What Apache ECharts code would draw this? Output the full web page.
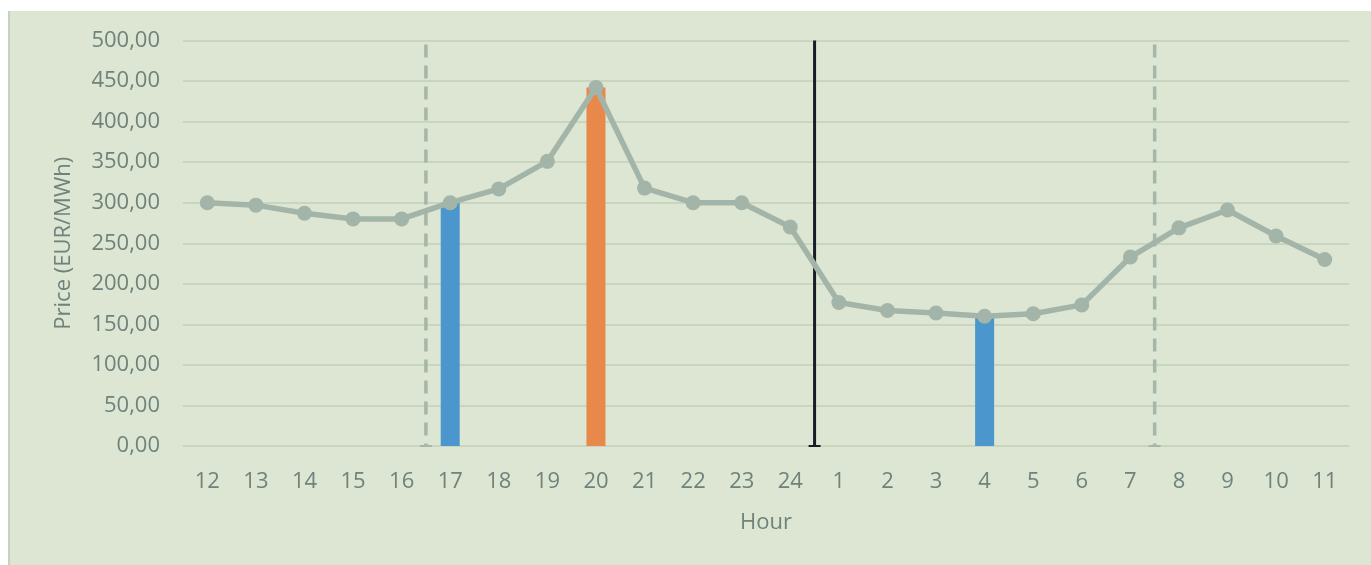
<!DOCTYPE html>
<html><head><meta charset="utf-8">
<script src="https://cdn.jsdelivr.net/npm/echarts@6/dist/echarts.min.js"></script>
<style>
html,body{margin:0;padding:0;background:#fff;}
#wrap{position:absolute;left:0;top:0;width:1371px;height:565px;background:#fff;}
#border{position:absolute;left:8px;top:11px;width:2px;height:554px;background:#c4d3bc;}
#chart{position:absolute;left:10px;top:11px;width:1361px;height:554px;background:#dce6d3;}
</style></head>
<body>
<div id="wrap"><div id="border"></div><div id="chart"></div></div>
<script>
const hours = ['12','13','14','15','16','17','18','19','20','21','22','23','24','1','2','3','4','5','6','7','8','9','10','11'];
const price = [300,297,287,280,280,300,317,351,442,318,300,300,270,177,167,164,160,163,174,233,269,291,259,230];
const blueBars = [null,null,null,null,null,300,null,null,null,null,null,null,null,null,null,null,160,null,null,null,null,null,null,null];
const orangeBars = [null,null,null,null,null,null,null,null,442,null,null,null,null,null,null,null,null,null,null,null,null,null,null,null];
// vertical dividers: [category index after which the divider sits, top value]
const dashedDividers = [[4,495],[19,495]];
const solidDividers = [[12,500]];
const yTicks = [0,50,100,150,200,250,300,350,400,450,500];

const chart = echarts.init(document.getElementById('chart'), null, {renderer:'canvas'});
const font = '"Open Sans", "Liberation Sans", sans-serif';
const txt = '#6f827b';

function dividerRender(color, dash, w){
  return function(params, api){
    const idx = api.value(0);
    const top = api.value(1);
    const half = api.size([1,0])[0]/2;
    const p0 = api.coord([idx, 0]);
    const p1 = api.coord([idx, top]);
    const x = p0[0] + half;
    return {type:'group', children:[
      {type:'line', shape:{x1:x,y1:p1[1],x2:x,y2:p0[1]}, style:{stroke:color,lineWidth:w,lineDash:dash}},
      {type:'line', shape:{x1:x-6,y1:p0[1],x2:x+6,y2:p0[1]}, style:{stroke:color,lineWidth:2}}
    ]};
  };
}

chart.setOption({
  backgroundColor:'#dce6d3',
  animation:false,
  grid:{left:173,right:22,top:29.5,bottom:119,containLabel:false},
  xAxis:{
    type:'category', data:hours, boundaryGap:true,
    name:'Hour', nameLocation:'middle', nameGap:66,
    nameTextStyle:{color:txt,fontFamily:font,fontSize:22},
    axisLine:{show:false}, axisTick:{show:false},
    axisLabel:{color:txt,fontFamily:font,fontSize:22,margin:25}
  },
  yAxis:{
    type:'value', min:0, max:500, interval:50,
    name:'Price (EUR/MWh)', nameLocation:'middle', nameGap:108,
    nameTextStyle:{color:txt,fontFamily:font,fontSize:22},
    axisLine:{show:false}, axisTick:{show:false},
    axisLabel:{color:txt,fontFamily:font,fontSize:22,margin:23,
      formatter:v=>v.toFixed(2).replace('.',',')},
    splitLine:{lineStyle:{color:'#c8d5bf',width:2}}
  },
  series:[
    {type:'bar', data:blueBars, barWidth:19, barGap:'-100%', itemStyle:{color:'#4a96cd'}, z:2},
    {type:'bar', data:orangeBars, barWidth:19, itemStyle:{color:'#e8884a'}, z:2},
    {type:'custom', data:dashedDividers, renderItem:dividerRender('#a6b6a9',[13,8],3.5), z:3, silent:true},
    {type:'custom', data:solidDividers, renderItem:dividerRender('#1a1c26',null,3), z:3, silent:true},
    {type:'line', data:price, symbol:'circle', symbolSize:15,
     lineStyle:{color:'#a3b5a8',width:5.5}, itemStyle:{color:'#a3b5a8'}, z:5}
  ]
});
</script>
</body></html>
